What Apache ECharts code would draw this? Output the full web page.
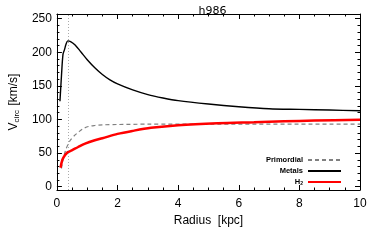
<!DOCTYPE html>
<html><head><meta charset="utf-8">
<script src="https://cdn.jsdelivr.net/npm/echarts@6/dist/echarts.min.js"></script>
<style>html,body{margin:0;padding:0;background:#fff}#c{width:374px;height:249px}</style>
</head><body><div id="c"></div>
<script>
// ---- data ----
const titleText = 'h986';
const metalsR = [0.1, 0.15, 0.2, 0.25, 0.3, 0.36, 0.45, 0.6, 0.8, 1.0, 1.25, 1.5, 1.75, 2.0, 2.5, 3.0, 3.5, 4.0, 5.0, 6.0, 7.0, 8.0, 9.0, 10.0];
const metalsV = [127, 165, 197, 204, 212, 217, 216, 211, 200, 189, 177, 167, 159, 153, 144, 137, 132, 128, 123, 119, 116, 115, 114, 113];
const primR = [0.15, 0.2, 0.3, 0.44, 0.6, 0.71, 0.85, 1.04, 1.25, 1.5, 2.0, 3.0, 5.0, 10.0];
const primV = [27, 40, 56, 69, 77, 81, 86, 89.5, 91, 92, 92.5, 93, 93, 93];
const h2R = [0.12, 0.18, 0.27, 0.35, 0.49, 0.7, 0.93, 1.25, 1.5, 2.0, 2.5, 3.1, 4.0, 5.3, 6.5, 7.5, 8.5, 10.0];
const h2V = [28, 40, 47, 51, 54, 59, 64, 69, 72, 78.5, 83, 87.5, 91.5, 94.5, 96, 97.3, 98.3, 99.5];
const markerR = 0.36;
const yMajor = [0, 50, 100, 150, 200, 250];
const yMinor = [10, 20, 30, 40, 60, 70, 80, 90, 110, 120, 130, 140, 160, 170, 180, 190, 210, 220, 230, 240];
const seriesNames = ['Primordial', 'Metals', 'H2'];

const zip = (a, b) => a.map((x, i) => [x, b[i]]);
const FONT = 'Liberation Sans';
const YMIN = -5, YMAX = 257;

function xAx(pos, labels) {
  return {
    type: 'value', position: pos, min: 0, max: 10, interval: 2,
    axisLine: { show: true, onZero: false, lineStyle: { color: '#000', width: 1 } },
    axisTick: { show: true, inside: true, length: 5, lineStyle: { color: '#000' } },
    minorTick: { show: true, splitNumber: 4, length: 2.5, lineStyle: { color: '#000' } },
    splitLine: { show: false }, minorSplitLine: { show: false },
    axisLabel: { show: labels, color: '#000', fontFamily: FONT, fontSize: 12, margin: 8 },
    name: labels ? 'Radius  [kpc]' : '', nameLocation: 'middle', nameGap: 21,
    nameTextStyle: { color: '#000', fontFamily: FONT, fontSize: 12 }
  };
}
function yAx(pos, labels, vals, len, showLine) {
  return {
    type: 'value', position: pos, min: YMIN, max: YMAX,
    axisLine: { show: showLine, onZero: false, lineStyle: { color: '#000', width: 1 } },
    axisTick: { show: true, inside: true, length: len, customValues: vals, lineStyle: { color: '#000' } },
    splitLine: { show: false },
    axisLabel: { show: labels, customValues: yMajor, color: '#000', fontFamily: FONT, fontSize: 12, margin: 5 },
    name: labels ? '{v|V}{s|circ}{v| [km/s]}' : '', nameLocation: 'middle', nameGap: 30, nameRotate: 90,
    nameTextStyle: { color: '#000', fontFamily: FONT, fontSize: 12,
      rich: { v: { fontFamily: FONT, fontSize: 12, color: '#000' },
              s: { fontFamily: FONT, fontSize: 8, color: '#000', verticalAlign: 'bottom', padding: [6, 1, 0, 0] } } }
  };
}

const chart = echarts.init(document.getElementById('c'), null, { renderer: 'canvas' });
chart.setOption({
  animation: false,
  backgroundColor: '#fff',
  title: { text: titleText, left: 207.5, textAlign: 'center', top: 1,
    textStyle: { fontFamily: 'DejaVu Sans', fontSize: 11, fontWeight: 'normal', color: '#000' } },
  grid: { left: 55, right: 14, top: 14, bottom: 59, containLabel: false },
  xAxis: [xAx('bottom', true), xAx('top', false)],
  yAxis: [yAx('left', true, yMajor, 5, true), yAx('right', false, yMajor, 5, true),
          yAx('left', false, yMinor, 2.5, false), yAx('right', false, yMinor, 2.5, false)],
  legend: {
    orient: 'vertical', align: 'right', right: 27, top: 151,
    itemWidth: 33, itemHeight: 6, itemGap: 3,
    data: seriesNames,
    itemStyle: { opacity: 0 },
    textStyle: { fontFamily: FONT, fontSize: 7.5, color: '#000', fontWeight: 'bold',
      rich: { n: { fontFamily: FONT, fontSize: 7.5, fontWeight: 'bold', color: '#000' },
              s: { fontFamily: FONT, fontSize: 5, fontWeight: 'bold', color: '#000', verticalAlign: 'bottom', padding: [3, 0, 0, 0] } } },
    formatter: n => n === 'H2' ? '{n|H}{s|2}' : n
  },
  series: [
    { name: 'Primordial', type: 'line', data: zip(primR, primV), symbol: 'none', smooth: 0.3,
      lineStyle: { color: '#808080', width: 1.2, type: [4, 3] }, itemStyle: { color: '#808080' },
      markLine: { silent: true, symbol: 'none', label: { show: false },
        lineStyle: { color: '#aaa', width: 1, type: [1, 2] }, data: [{ xAxis: markerR }] } },
    { name: 'Metals', type: 'line', data: zip(metalsR, metalsV), symbol: 'none', smooth: 0.3,
      lineStyle: { color: '#000', width: 1.4 }, itemStyle: { color: '#000' } },
    { name: 'H2', type: 'line', data: zip(h2R, h2V), symbol: 'none', smooth: 0.3,
      lineStyle: { color: '#ff0000', width: 2.5 }, itemStyle: { color: '#ff0000' } }
  ]
});
</script></body></html>
